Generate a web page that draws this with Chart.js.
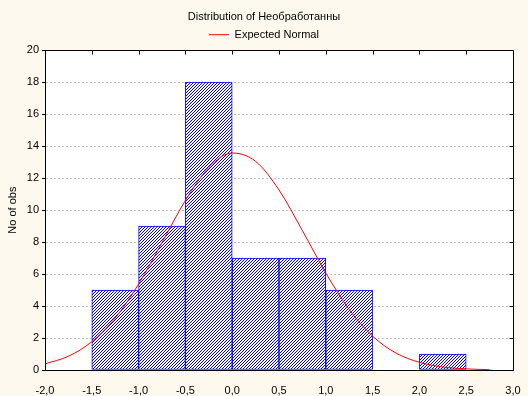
<!DOCTYPE html>
<html>
<head>
<meta charset="utf-8">
<script src="https://cdn.jsdelivr.net/npm/chart.js@4"></script>
<style>
  html, body { margin: 0; padding: 0; background: #fdf9ee; }
  canvas { display: block; }
</style>
</head>
<body>
<canvas id="grafica" width="528" height="396"></canvas>
<script>
// histogram bins (centre of each 0.5 wide class) and counts
const centrosClases = [-1.25, -0.75, -0.25, 0.25, 0.75, 1.25, 2.25]
const frecuencias = [5, 9, 18, 7, 7, 5, 1]

// expected normal curve
const curvaX = [-2.0, -1.75, -1.5, -1.25, -1.0, -0.75, -0.5, -0.25, 0, 0.25, 0.5, 0.75, 1.0, 1.25, 1.5, 1.75, 2.0, 2.25, 2.5, 2.75]
const curvaY = [0.38, 0.86, 1.77, 3.25, 5.37, 7.97, 10.6, 12.66, 13.57, 13.05, 11.26, 8.72, 6.07, 3.78, 2.12, 1.06, 0.48, 0.19, 0.07, 0.02]

const etiquetasX = ["-2,0", "-1,5", "-1,0", "-0,5", "0,0", "0,5", "1,0", "1,5", "2,0", "2,5", "3,0"]
const etiquetasY = ["0", "2", "4", "6", "8", "10", "12", "14", "16", "18", "20"]

const titulo = "Distribution of Необработанны"
const tituloLeyenda = "Expected Normal"
const tituloEjeY = "No of obs"

const fuente = "'Liberation Sans', Arial, sans-serif"

function crearRayado() {
    const c = document.createElement("canvas")
    c.width = 3
    c.height = 3
    const ctx = c.getContext("2d")
    ctx.fillStyle = "#ffffff"
    ctx.fillRect(0, 0, 3, 3)
    ctx.fillStyle = "#0000ff"
    ctx.fillRect(2, 0, 1, 1)
    ctx.fillRect(1, 1, 1, 1)
    ctx.fillRect(0, 2, 1, 1)
    return document.getElementById("grafica").getContext("2d").createPattern(c, "repeat")
}

// cream page, white plot area, black frame with inner ticks on top and right
const marco = {
    id: "marco",
    beforeDraw(chart) {
        const ctx = chart.ctx
        const a = chart.chartArea
        ctx.save()
        ctx.fillStyle = "#fdf9ee"
        ctx.fillRect(0, 0, chart.width, chart.height)
        ctx.fillStyle = "#ffffff"
        ctx.fillRect(a.left, a.top, a.right - a.left, a.bottom - a.top)
        ctx.restore()
    },
    afterDraw(chart) {
        const ctx = chart.ctx
        const a = chart.chartArea
        const x = chart.scales.x
        const y = chart.scales.y
        ctx.save()
        ctx.strokeStyle = "#000000"
        ctx.lineWidth = 1
        ctx.setLineDash([])
        ctx.beginPath()
        const l = Math.round(a.left) + 0.5
        const r = Math.round(a.right) + 0.5
        const t = Math.round(a.top) + 0.5
        const b = Math.round(a.bottom) + 0.5
        ctx.rect(l, t, r - l, b - t)
        x.ticks.forEach((tk) => {
            const px = Math.round(x.getPixelForValue(tk.value)) + 0.5
            ctx.moveTo(px, t)
            ctx.lineTo(px, t + 4)
        })
        y.ticks.forEach((tk) => {
            const py = Math.round(y.getPixelForValue(tk.value)) + 0.5
            ctx.moveTo(r, py)
            ctx.lineTo(r - 4, py)
        })
        ctx.stroke()
        ctx.restore()
    }
}

const datosBarras = centrosClases.map((c, i) => ({ x: c, y: frecuencias[i] }))
const datosCurva = curvaX.map((c, i) => ({ x: c, y: curvaY[i] }))

const config = {
    type: "bar",
    data: {
        datasets: [
            {
                type: "line",
                label: tituloLeyenda,
                data: datosCurva,
                borderColor: "#ff0000",
                backgroundColor: "#ff0000",
                borderWidth: 1,
                pointRadius: 0,
                cubicInterpolationMode: "monotone",
                order: 0
            },
            {
                type: "bar",
                label: "obs",
                data: datosBarras,
                backgroundColor: crearRayado(),
                borderColor: "#0000ff",
                borderWidth: 1,
                borderSkipped: false,
                barPercentage: 1,
                categoryPercentage: 1,
                order: 1
            }
        ]
    },
    plugins: [marco],
    options: {
        responsive: false,
        animation: false,
        devicePixelRatio: 1,
        layout: { padding: { left: 0, right: 0, top: 0, bottom: 0 } },
        plugins: {
            title: {
                display: true,
                text: titulo,
                color: "#000000",
                font: { family: fuente, size: 11, weight: "normal" },
                padding: { top: 10, bottom: 2 }
            },
            legend: {
                display: true,
                labels: {
                    filter: (item) => item.text === tituloLeyenda,
                    usePointStyle: true,
                    pointStyle: "line",
                    pointStyleWidth: 20,
                    color: "#000000",
                    padding: 4,
                    font: { family: fuente, size: 11 }
                }
            },
            tooltip: { enabled: false }
        },
        scales: {
            x: {
                type: "linear",
                min: -2,
                max: 3,
                offset: false,
                afterFit: (s) => { s.height = 26 },
                ticks: {
                    stepSize: 0.5,
                    color: "#000000",
                    padding: 6,
                    maxRotation: 0,
                    autoSkip: false,
                    font: { family: fuente, size: 11 },
                    callback: (v, i) => etiquetasX[i]
                },
                grid: { display: false, offset: false },
                border: { display: true, color: "#000000" }
            },
            y: {
                min: 0,
                max: 20,
                afterFit: (s) => { s.width = 45 },
                ticks: {
                    stepSize: 2,
                    color: "#000000",
                    padding: 3,
                    font: { family: fuente, size: 11 },
                    callback: (v, i) => etiquetasY[i]
                },
                grid: {
                    color: "#c4c4c4",
                    tickColor: "#000000",
                    tickLength: 3,
                    tickBorderDash: []
                },
                border: { display: true, color: "#000000", dash: [2, 2] },
                title: {
                    display: true,
                    text: tituloEjeY,
                    color: "#000000",
                    font: { family: fuente, size: 11 },
                    padding: { top: 6, bottom: 0 }
                }
            },
            derecha: {
                type: "linear",
                position: "right",
                display: true,
                afterFit: (s) => { s.width = 15 },
                ticks: { display: false },
                grid: { display: false },
                border: { display: false }
            }
        }
    }
}

new Chart(document.getElementById("grafica"), config)
</script>
</body>
</html>
